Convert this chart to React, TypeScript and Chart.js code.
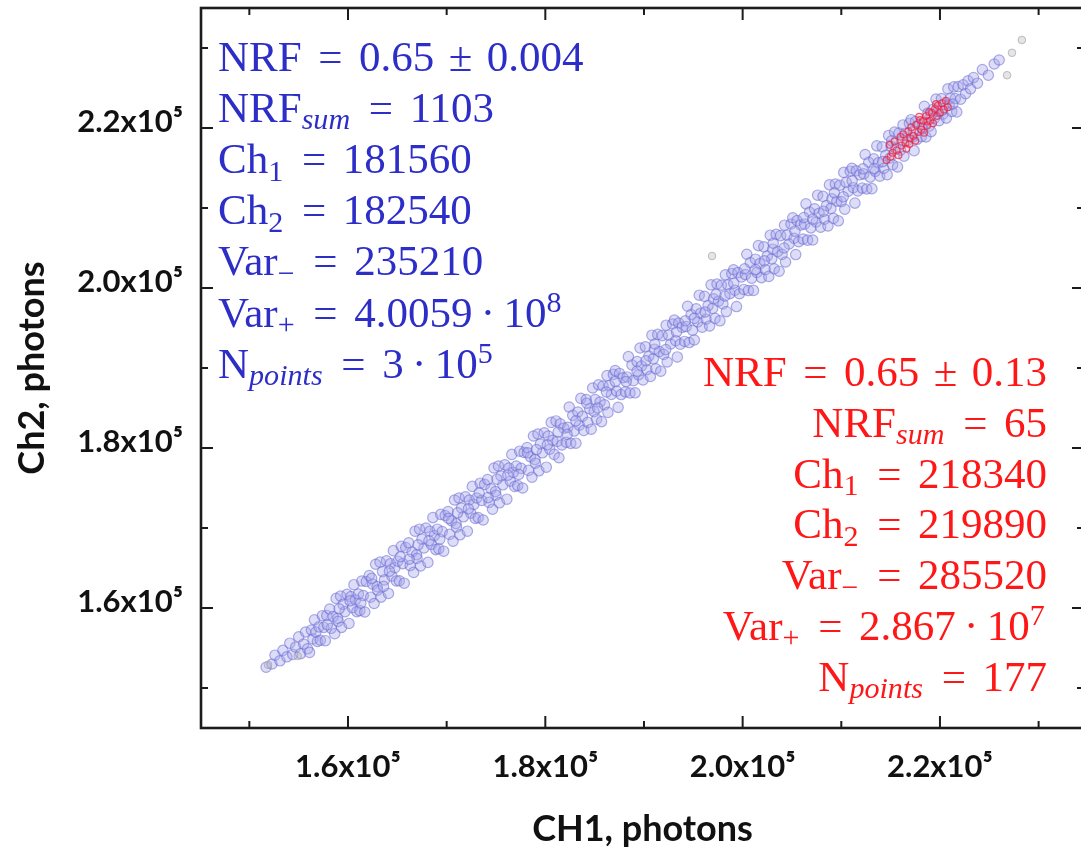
import React, { useEffect, useRef } from 'react';
import { Chart, registerables } from 'chart.js';

Chart.register(...registerables);

// ---------- axis values ----------
const X_MIN = 145100;
const X_MAX = 234600;
const Y_MIN = 145000;
const Y_MAX = 235000;
const xMajorTicks = [160000, 180000, 200000, 220000];
const xMinorTicks = [150000, 170000, 190000, 210000, 230000];
const yMajorTicks = [160000, 180000, 200000, 220000];
const yMinorTicks = [150000, 170000, 190000, 210000, 230000];
const xTickLabels = ['1.6x10⁵', '1.8x10⁵', '2.0x10⁵', '2.2x10⁵'];
const yTickLabels = ['1.6x10⁵', '1.8x10⁵', '2.0x10⁵', '2.2x10⁵'];
const xTitle = 'CH1, photons';
const yTitle = 'Ch2, photons';

// ---------- data (kilo-photons: [Ch1, Ch2]) ----------
const bluePoints: [number, number][] = [
  [151.7,152.6],[152.3,153.0],[152.6,154.1],[153.1,153.4],[153.4,154.7],[153.8,153.9],[154.1,155.6],[154.4,154.2],[154.7,155.1],[155.0,156.4],[155.2,154.3],[155.5,155.5],[155.7,157.0],[155.9,154.9],
  [156.1,154.45],[156.3,157.24],[156.45,156.13],[156.6,158.52],[156.75,156.99],[156.9,155.81],
  [157.05,157.64],[157.2,155.97],[157.4,159.04],[157.55,157.58],[157.7,155.91],[157.85,159.07],
  [158.15,159.87],[158.3,157.46],[158.5,158.94],[158.65,156.79],[158.8,161.2],[158.95,158.71],
  [159.0,158.33],[159.25,161.48],[159.35,157.58],[159.5,160.45],[159.7,159.54],[159.9,161.7],
  [160.1,158.07],[160.3,161.42],[160.45,160.04],[160.6,162.91],[160.75,161.02],[160.9,159.55],
  [161.05,161.75],[161.2,159.68],[161.4,163.37],[161.55,161.56],[161.7,159.5],[161.85,163.31],
  [162.15,164.05],[162.3,161.35],[162.5,162.98],[162.65,160.56],[162.8,165.47],[162.95,162.67],
  [163.0,162.24],[163.25,165.73],[163.35,161.36],[163.5,164.55],[163.7,163.51],[163.9,165.9],
  [164.1,161.82],[164.3,165.54],[164.45,163.98],[164.6,167.17],[164.75,165.04],[164.9,163.38],
  [165.05,165.85],[165.2,163.4],[165.4,167.7],[165.55,165.55],[165.7,163.1],[165.85,167.55],
  [166.15,168.15],[166.3,165.3],[166.5,167.0],[166.65,164.45],[166.8,169.6],[166.95,166.65],
  [167.0,166.2],[167.25,169.85],[167.35,165.25],[167.5,168.6],[167.7,167.5],[167.9,170.0],
  [168.1,165.7],[168.3,169.6],[168.45,167.95],[168.6,171.3],[168.75,169.05],[168.9,167.3],
  [169.05,169.85],[169.2,167.4],[169.4,171.7],[169.55,169.55],[169.7,167.1],[169.85,171.55],
  [170.15,172.05],[170.3,169.2],[170.5,170.9],[170.65,168.35],[170.8,173.5],[170.95,170.55],
  [171.0,170.1],[171.25,173.75],[171.35,169.15],[171.5,172.5],[171.7,171.4],[171.9,173.9],
  [172.1,169.6],[172.3,173.5],[172.45,171.85],[172.6,175.2],[172.75,172.95],[172.9,171.2],
  [173.05,173.75],[173.2,171.3],[173.4,175.6],[173.55,173.45],[173.7,171.0],[173.85,175.45],
  [174.15,176.05],[174.3,173.2],[174.5,174.9],[174.65,172.35],[174.8,177.5],[174.95,174.55],
  [175.0,174.1],[175.25,177.75],[175.35,173.15],[175.5,176.5],[175.7,175.4],[175.9,177.9],
  [176.1,173.6],[176.3,177.5],[176.45,175.85],[176.6,179.2],[176.75,176.95],[176.9,175.2],
  [177.05,177.75],[177.2,175.3],[177.4,179.6],[177.55,177.45],[177.7,175.0],[177.85,179.45],
  [178.15,180.05],[178.3,177.2],[178.5,178.9],[178.65,176.35],[178.8,181.5],[178.95,178.55],
  [179.0,178.1],[179.25,181.75],[179.35,177.15],[179.5,180.5],[179.7,179.4],[179.9,181.9],
  [180.1,177.6],[180.3,181.5],[180.45,179.85],[180.6,183.2],[180.75,180.95],[180.9,179.2],
  [181.08,183.38],[181.22,180.82],[181.38,178.78],[181.52,183.02],[181.68,180.38],[181.88,182.48],
  [182.12,180.72],[182.28,182.58],[182.42,185.12],[182.58,180.58],[182.78,184.08],[182.92,182.12],
  [183.1,180.6],[183.3,184.5],[183.45,182.85],[183.6,186.2],[183.75,183.95],[183.9,182.2],
  [184.15,186.05],[184.3,183.2],[184.5,184.9],[184.65,182.35],[184.8,187.5],[184.95,184.55],
  [185.05,186.05],[185.2,183.6],[185.4,187.9],[185.55,185.75],[185.7,183.3],[185.85,187.75],
  [186.0,185.4],[186.25,189.05],[186.35,184.45],[186.5,187.8],[186.7,186.7],[186.9,189.2],
  [187.08,189.68],[187.22,187.12],[187.38,185.08],[187.52,189.32],[187.68,186.68],[187.88,188.78],
  [188.12,187.02],[188.28,188.88],[188.42,191.42],[188.58,186.88],[188.78,190.38],[188.92,188.42],
  [189.1,186.9],[189.3,190.8],[189.45,189.15],[189.6,192.5],[189.75,190.25],[189.9,188.5],
  [190.15,192.65],[190.3,189.8],[190.5,191.5],[190.65,188.95],[190.8,194.1],[190.95,191.15],
  [191.05,192.35],[191.2,189.9],[191.4,194.2],[191.55,192.05],[191.7,189.6],[191.85,194.05],
  [192.0,191.7],[192.25,195.35],[192.35,190.75],[192.5,194.1],[192.7,193.0],[192.9,195.5],
  [193.08,195.98],[193.22,193.42],[193.38,191.38],[193.52,195.62],[193.68,192.98],[193.88,195.08],
  [194.12,193.32],[194.28,195.18],[194.42,197.72],[194.58,193.18],[194.78,196.68],[194.92,194.72],
  [195.1,193.5],[195.3,197.4],[195.45,195.75],[195.6,199.1],[195.75,196.85],[195.9,195.1],
  [196.15,198.95],[196.3,196.1],[196.5,197.8],[196.65,195.25],[196.8,200.4],[196.95,197.45],
  [197.05,198.65],[197.2,196.2],[197.4,200.5],[197.55,198.35],[197.7,195.9],[197.85,200.35],
  [198.0,198.0],[198.25,201.65],[198.35,197.05],[198.5,200.4],[198.7,199.3],[198.9,201.8],
  [199.08,202.28],[199.22,199.72],[199.38,197.68],[199.52,201.92],[199.68,199.28],[199.88,201.38],
  [200.12,199.82],[200.28,201.68],[200.42,204.22],[200.58,199.68],[200.78,203.18],[200.92,201.22],
  [201.1,199.7],[201.3,203.6],[201.45,201.95],[201.6,205.3],[201.75,203.05],[201.9,201.3],
  [202.15,205.15],[202.3,202.3],[202.5,204.0],[202.65,201.45],[202.8,206.6],[202.95,203.65],
  [203.05,204.85],[203.2,202.4],[203.4,206.7],[203.55,204.55],[203.7,202.1],[203.85,206.55],
  [204.0,204.2],[204.25,207.85],[204.35,203.25],[204.5,206.6],[204.7,205.5],[204.9,208.0],
  [205.08,208.78],[205.22,206.22],[205.38,204.18],[205.52,208.42],[205.68,205.78],[205.88,207.88],
  [206.12,206.12],[206.28,207.98],[206.42,210.52],[206.58,205.98],[206.78,209.48],[206.92,207.52],
  [207.1,206.0],[207.3,209.9],[207.45,208.25],[207.6,211.6],[207.75,209.35],[207.9,207.6],
  [208.15,211.45],[208.3,208.6],[208.5,210.3],[208.65,207.75],[208.8,212.9],[208.95,209.95],
  [209.05,211.15],[209.2,208.7],[209.4,213.0],[209.55,210.85],[209.7,208.4],[209.85,212.85],
  [210.0,210.8],[210.25,214.45],[210.35,209.85],[210.5,213.2],[210.7,212.1],[210.9,214.6],
  [211.08,214.97],[211.22,212.54],[211.38,210.61],[211.52,214.65],[211.68,212.14],[211.88,214.15],
  [212.12,212.49],[212.28,214.27],[212.42,216.69],[212.58,212.38],[212.78,215.72],[212.92,213.86],
  [213.1,212.42],[213.3,216.14],[213.45,214.58],[213.6,217.77],[213.75,215.64],[213.9,213.98],
  [214.15,217.65],[214.3,214.95],[214.5,216.58],[214.65,214.16],[214.8,219.07],[214.95,216.27],
  [215.05,217.72],[215.2,215.4],[215.4,219.49],[215.55,217.45],[215.7,215.13],[215.85,219.37],
  [216.0,217.23],[216.25,220.38],[216.35,216.48],[216.5,219.35],[216.7,218.44],[216.9,220.6],
  [217.08,221.04],[217.22,218.88],[217.38,217.17],[217.52,220.8],[217.68,218.58],[217.88,220.39],
  [218.12,218.93],[218.28,220.54],[218.42,222.72],[218.58,218.88],[218.78,221.88],[218.92,220.24],
  [219.1,219.55],[219.3,222.34],[219.45,221.23],[219.6,223.62],[219.75,222.09],[219.9,220.91],
  [220.15,223.68],[220.3,221.73],[220.5,222.98],[220.65,221.24],[220.8,224.89],[220.95,222.87],
  [221.05,223.74],[221.2,222.07],[221.4,225.14],[221.55,223.68],[221.7,222.01],[221.85,225.17],
  [222.1,223.6],[222.35,225.4],[222.6,224.3],[222.85,225.9],[223.1,224.9],
  [223.4,226.3],[223.8,225.6],[224.3,227.3],[224.9,226.6],[225.5,228.0],[226.0,228.5],
];

const blueCorePoints: [number, number][] = [
  [157.9,157.9],[159.1,159.9],[160.2,160.9],[161.3,160.6],[162.4,163.7],[163.6,162.7],[164.2,164.6],[165.3,166.4],
  [166.2,166.1],[167.1,167.9],[168.2,168.4],[169.3,168.6],[170.2,171.2],[171.1,171.9],[172.2,172.4],[173.3,174.4],
  [174.2,173.8],[175.1,176.1],[176.2,176.6],[177.3,176.7],[178.2,179.4],[179.1,179.8],[180.2,180.4],[181.3,182.0],
  [182.2,181.7],[183.1,183.4],[184.2,185.6],[185.3,185.0],[186.2,187.0],[187.1,188.3],[188.2,188.3],[189.3,189.6],
  [190.2,190.9],[191.1,193.0],[192.2,192.3],[193.3,194.5],[194.2,195.9],[195.1,196.2],[196.2,197.0],[197.3,199.2],
  [198.2,199.0],[199.1,200.6],[200.2,202.4],[201.3,202.3],[202.2,203.4],[203.1,205.6],[204.2,205.0],[205.3,207.1],
  [206.2,208.8],[207.1,208.6],[208.2,209.6],[209.3,211.9],[210.2,211.4],[211.1,213.4],[212.2,214.9],[213.3,214.9],
  [214.2,215.8],[215.1,218.4],[216.2,218.5],[217.3,219.6],[218.2,219.9],[219.1,221.6],[220.2,222.2],[221.3,223.0],
];

const redPoints: [number, number][] = [
  [214.6,216.0],[214.9,217.9],[215.0,216.4],[215.2,216.9],[215.4,218.3],[215.6,217.2],[215.8,216.6],
  [216.0,218.9],[216.1,217.8],[216.3,219.2],[216.5,218.1],[216.6,217.4],[216.8,219.6],[216.9,218.0],
  [217.0,218.7],[217.1,220.1],[217.3,219.0],[217.5,218.4],[217.6,220.4],[217.8,219.5],[217.9,221.4],
  [218.0,221.0],[218.1,219.8],[218.3,220.9],[218.4,219.4],[218.6,221.5],[218.7,220.3],[218.8,220.8],
  [218.9,222.0],[219.0,220.9],[219.2,221.9],[219.3,220.6],[219.5,222.4],[219.6,223.0],[219.7,221.5],
  [219.8,222.8],[220.0,221.9],[220.2,223.1],[220.4,222.3],[220.6,223.4],[220.8,222.6],
];

const grayPoints: [number, number][] = [
  [196.9,204.0],[226.8,226.6],[227.3,229.4],[228.3,231.0],[151.9,152.9],[154.9,154.0],
];

// ---------- annotation text ----------
type Tok = { t: string; k?: 'sub' | 'subi' | 'sup'; w?: number };
const blueLines: Tok[][] = [
  [{ t: 'NRF' }, { t: '=', w: 1.334 }, { t: '0.65' }, { t: '±', w: 1.222 }, { t: '0.004' }],
  [{ t: 'NRF' }, { t: 'sum', k: 'subi' }, { t: '=', w: 1.334 }, { t: '1103' }],
  [{ t: 'Ch' }, { t: '1', k: 'sub' }, { t: '=', w: 1.334 }, { t: '181560' }],
  [{ t: 'Ch' }, { t: '2', k: 'sub' }, { t: '=', w: 1.334 }, { t: '182540' }],
  [{ t: 'Var' }, { t: '−', k: 'sub' }, { t: '=', w: 1.334 }, { t: '235210' }],
  [{ t: 'Var' }, { t: '+', k: 'sub' }, { t: '=', w: 1.334 }, { t: '4.0059' }, { t: '·', w: 0.722 }, { t: '10' }, { t: '8', k: 'sup' }],
  [{ t: 'N' }, { t: 'points', k: 'subi' }, { t: '=', w: 1.334 }, { t: '3' }, { t: '·', w: 0.722 }, { t: '10' }, { t: '5', k: 'sup' }],
];
const redLines: Tok[][] = [
  [{ t: 'NRF' }, { t: '=', w: 1.334 }, { t: '0.65' }, { t: '±', w: 1.222 }, { t: '0.13' }],
  [{ t: 'NRF' }, { t: 'sum', k: 'subi' }, { t: '=', w: 1.334 }, { t: '65' }],
  [{ t: 'Ch' }, { t: '1', k: 'sub' }, { t: '=', w: 1.334 }, { t: '218340' }],
  [{ t: 'Ch' }, { t: '2', k: 'sub' }, { t: '=', w: 1.334 }, { t: '219890' }],
  [{ t: 'Var' }, { t: '−', k: 'sub' }, { t: '=', w: 1.334 }, { t: '285520' }],
  [{ t: 'Var' }, { t: '+', k: 'sub' }, { t: '=', w: 1.334 }, { t: '2.867' }, { t: '·', w: 0.722 }, { t: '10' }, { t: '7', k: 'sup' }],
  [{ t: 'N' }, { t: 'points', k: 'subi' }, { t: '=', w: 1.334 }, { t: '177' }],
];

const MATH_FONT = '"Liberation Serif", "Times New Roman", serif';
const MATH_SIZE = 43;
const BLUE_TEXT = 'rgb(45,45,200)';
const RED_TEXT = 'rgb(255,22,22)';

function drawMath(ctx: CanvasRenderingContext2D, line: Tok[], x: number, baseline: number, align: 'left' | 'right', size: number, color: string) {
  const pieces = line.map((tok) => {
    const k = tok.k;
    const small = k === 'sub' || k === 'subi' || k === 'sup';
    const fs = small ? size * 0.7 : size;
    const font = `${k === 'subi' ? 'italic ' : ''}${fs}px ${MATH_FONT}`;
    ctx.font = font;
    const gw = ctx.measureText(tok.t).width;
    const w = tok.w ? tok.w * size : gw + (small ? size * 0.05 : 0);
    const dy = k === 'sub' || k === 'subi' ? size * 0.17 : k === 'sup' ? -size * 0.34 : 0;
    return { tok, font, gw, w, dy };
  });
  const total = pieces.reduce((s, p) => s + p.w, 0);
  let cx = align === 'right' ? x - total : x;
  ctx.fillStyle = color;
  ctx.textAlign = 'left';
  ctx.textBaseline = 'alphabetic';
  for (const p of pieces) {
    ctx.font = p.font;
    ctx.fillText(p.tok.t, cx + (p.tok.w ? (p.w - p.gw) / 2 : 0), baseline + p.dy);
    cx += p.w;
  }
}

const framePlugin = {
  id: 'frameTicks',
  afterDraw(chart: any) {
    const { ctx, chartArea, scales } = chart;
    const { left, right, top, bottom } = chartArea;
    const xs = scales.x;
    const ys = scales.y;
    ctx.save();
    ctx.strokeStyle = '#1c1c1c';
    ctx.lineWidth = 2;
    ctx.beginPath();
    const vTick = (v: number, len: number) => {
      const px = xs.getPixelForValue(v);
      ctx.moveTo(px, bottom); ctx.lineTo(px, bottom - len);
      ctx.moveTo(px, top); ctx.lineTo(px, top + len);
    };
    const hTick = (v: number, len: number) => {
      const py = ys.getPixelForValue(v);
      ctx.moveTo(left, py); ctx.lineTo(left + len, py);
      ctx.moveTo(right, py); ctx.lineTo(right - len, py);
    };
    xMajorTicks.forEach((v) => vTick(v, 12));
    xMinorTicks.forEach((v) => vTick(v, 7));
    yMajorTicks.forEach((v) => hTick(v, 12));
    yMinorTicks.forEach((v) => hTick(v, 7));
    ctx.stroke();
    ctx.lineWidth = 2.6;
    ctx.strokeRect(left, top, right - left, bottom - top);
    ctx.restore();

    ctx.save();
    blueLines.forEach((ln, i) => drawMath(ctx, ln, 218, 71 + i * 51.1, 'left', MATH_SIZE, BLUE_TEXT));
    redLines.forEach((ln, i) => drawMath(ctx, ln, 1047, 386 + i * 50.8, 'right', MATH_SIZE, RED_TEXT));
    ctx.restore();
  },
};

const toXY = (pts: [number, number][]) => pts.map(([a, b]) => ({ x: a * 1000, y: b * 1000 }));

export default function App() {
  const ref = useRef<HTMLCanvasElement | null>(null);
  useEffect(() => {
    if (!ref.current) return;
    const tickFont = { family: 'Lato', weight: 'bold' as const, size: 31 };
    const titleFont = { family: 'Lato', weight: 'bold' as const, size: 36 };
    const blueStyle = {
      pointRadius: 5.2,
      borderWidth: 1.2,
      borderColor: 'rgba(105,105,214,0.55)',
      backgroundColor: 'rgba(165,165,234,0.38)',
    };
    const chart = new Chart(ref.current, {
      type: 'scatter',
      data: {
        datasets: [
          {
            data: toXY(redPoints),
            order: 0,
            pointRadius: 3.4,
            borderWidth: 1.2,
            borderColor: 'rgba(236,30,60,0.7)',
            backgroundColor: 'rgba(235,120,150,0.25)',
          },
          {
            data: toXY(grayPoints),
            order: 1,
            pointRadius: 3.8,
            borderWidth: 1,
            borderColor: 'rgba(150,150,160,0.6)',
            backgroundColor: 'rgba(190,190,195,0.4)',
          },
          { data: toXY(blueCorePoints), order: 2, ...blueStyle },
          { data: toXY(bluePoints), order: 3, ...blueStyle },
        ],
      },
      options: {
        animation: false,
        responsive: false,
        devicePixelRatio: 1,
        events: [],
        layout: { padding: { left: 0, top: 8, right: 16, bottom: 0 } },
        plugins: { legend: { display: false }, tooltip: { enabled: false } },
        scales: {
          x: {
            type: 'linear',
            min: X_MIN,
            max: X_MAX,
            afterBuildTicks: (s: any) => { s.ticks = xMajorTicks.map((v) => ({ value: v })); },
            afterFit: (s: any) => { s.height = 124; s.paddingLeft = 0; s.paddingRight = 0; },
            grid: { display: false, drawTicks: false },
            border: { display: false },
            ticks: {
              autoSkip: false,
              maxRotation: 0,
              padding: 20,
              color: '#111',
              font: tickFont,
              callback: (v: any) => xTickLabels[xMajorTicks.indexOf(Number(v))] ?? '',
            },
            title: { display: true, text: xTitle, color: '#111', font: titleFont, padding: { top: 0, bottom: 1 } },
          },
          y: {
            type: 'linear',
            min: Y_MIN,
            max: Y_MAX,
            afterBuildTicks: (s: any) => { s.ticks = yMajorTicks.map((v) => ({ value: v })); },
            afterFit: (s: any) => { s.width = 201; s.paddingTop = 0; s.paddingBottom = 0; },
            grid: { display: false, drawTicks: false },
            border: { display: false },
            ticks: {
              autoSkip: false,
              padding: 18,
              labelOffset: -6,
              color: '#111',
              font: tickFont,
              callback: (v: any) => yTickLabels[yMajorTicks.indexOf(Number(v))] ?? '',
            },
            title: { display: true, text: yTitle, color: '#111', font: titleFont, padding: { top: 11, bottom: 0 } },
          },
        },
      },
      plugins: [framePlugin],
    });
    return () => chart.destroy();
  }, []);

  return (
    <div style={{ position: 'absolute', left: 0, top: 0, width: 1081, height: 852, overflow: 'hidden', background: '#fff' }}>
      <canvas ref={ref} width={1100} height={852} style={{ width: 1100, height: 852, display: 'block' }} />
    </div>
  );
}
